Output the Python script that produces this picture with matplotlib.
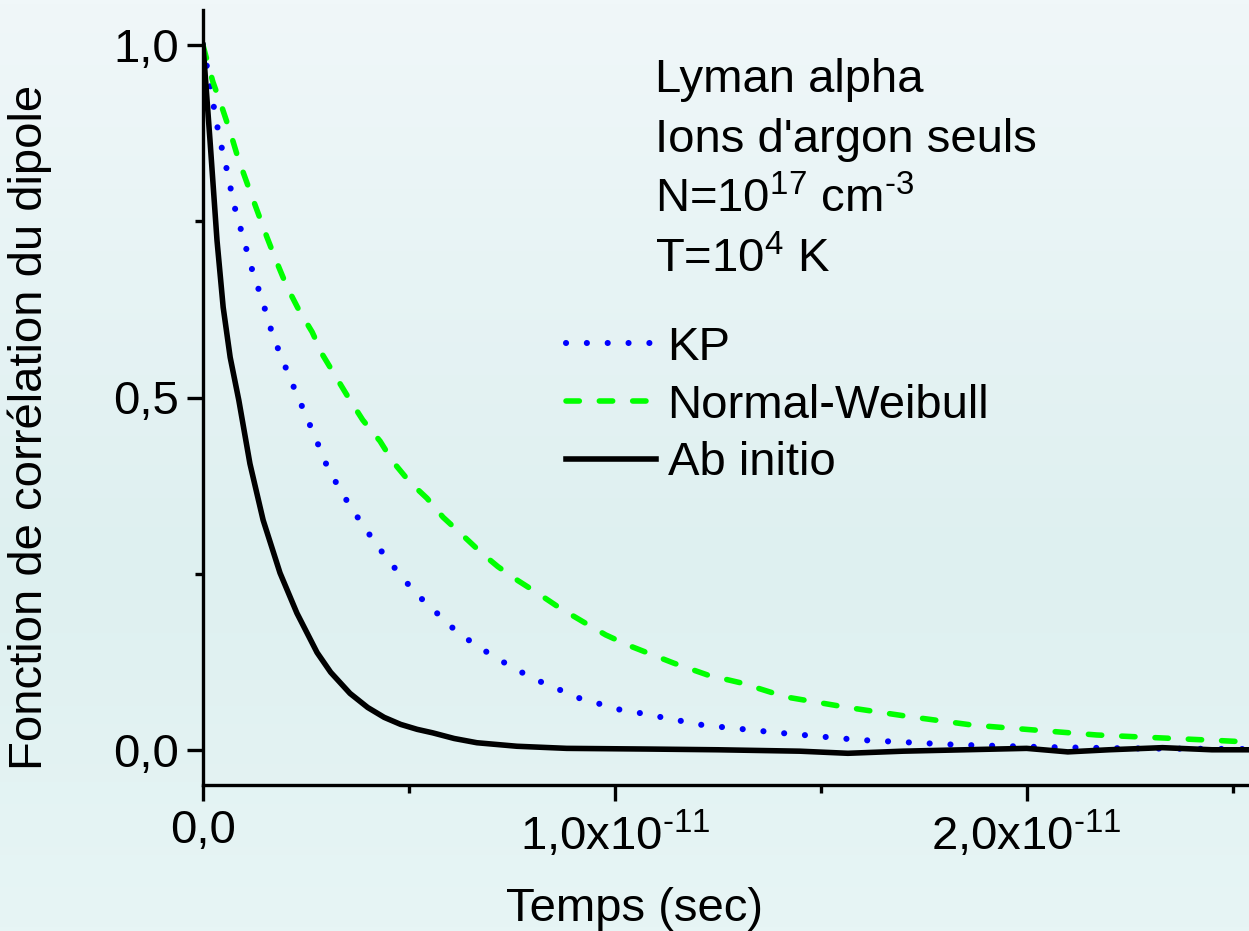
import numpy as np
import matplotlib
matplotlib.use("Agg")
import matplotlib.pyplot as plt
from matplotlib.colors import LinearSegmentedColormap

plt.rcParams["font.family"] = ["Liberation Sans", "DejaVu Sans"]
plt.rcParams["mathtext.default"] = "regular"

# time in units of 1e-11 s
t_ab = [0, 0.017, 0.034, 0.049, 0.066, 0.087, 0.114, 0.146, 0.187, 0.228, 0.277,
        0.31, 0.357, 0.40, 0.44, 0.48, 0.52, 0.558, 0.61, 0.665, 0.762, 0.883, 1.085,
        1.25, 1.449, 1.566, 1.70, 1.85, 2.0, 2.10, 2.2, 2.33, 2.45, 2.54]
c_ab = [1.0, 0.865, 0.723, 0.628, 0.557, 0.496, 0.406, 0.326, 0.251, 0.194, 0.138,
        0.110, 0.080, 0.060, 0.046, 0.036, 0.029, 0.024, 0.016, 0.010, 0.005, 0.002,
        0.001, 0.000, -0.002, -0.005, -0.002, 0.000, 0.002, -0.003, 0.000, 0.003,
        0.000, 0.000]

t_kp = [0, 0.0097, 0.024, 0.039, 0.058, 0.075, 0.097, 0.119, 0.146, 0.170, 0.199,
        0.228, 0.243, 0.277, 0.303, 0.340, 0.381, 0.425, 0.471, 0.515, 0.568, 0.619,
        0.680, 0.714, 0.745, 0.777, 0.818, 0.854, 0.886, 0.925, 0.964, 1.002, 1.044,
        1.214, 1.400, 1.592, 1.833, 2.029, 2.24, 2.54]
c_kp = [1.0, 0.969, 0.92, 0.871, 0.823, 0.774, 0.728, 0.682, 0.634, 0.587, 0.545,
        0.504, 0.484, 0.437, 0.400, 0.362, 0.325, 0.288, 0.254, 0.223, 0.194, 0.166,
        0.142, 0.130, 0.119, 0.109, 0.097, 0.089, 0.079, 0.071, 0.065, 0.058, 0.054,
        0.035, 0.024, 0.014, 0.007, 0.004, 0.002, 0.001]

t_nw = [0, 0.005, 0.024, 0.046, 0.066, 0.085, 0.109, 0.131, 0.155, 0.177, 0.204,
        0.233, 0.265, 0.291, 0.323, 0.352, 0.388, 0.430, 0.461, 0.502, 0.544, 0.583,
        0.624, 0.677, 0.716, 0.765, 0.816, 0.867, 0.922, 0.978, 1.034, 1.143, 1.226,
        1.306, 1.415, 1.566, 1.716, 1.869, 2.02, 2.17, 2.32, 2.47, 2.54]
c_nw = [1.0, 0.989, 0.948, 0.912, 0.877, 0.840, 0.801, 0.766, 0.728, 0.695, 0.657,
        0.624, 0.593, 0.560, 0.529, 0.501, 0.468, 0.438, 0.409, 0.380, 0.357, 0.330,
        0.308, 0.279, 0.260, 0.240, 0.221, 0.201, 0.182, 0.163, 0.148, 0.123, 0.106,
        0.095, 0.075, 0.060, 0.047, 0.035, 0.028, 0.021, 0.017, 0.013, 0.011]

HY = "\u2010"  # plain hyphen in the exponents, not a minus sign
info_lines = ["Lyman alpha", "Ions d'argon seuls",
              "N=10$^{17}$ cm$^{" + HY + "3}$", "T=10$^{4}$ K"]
x_ticklabels = ["0,0", "1,0x10$^{" + HY + "11}$", "2,0x10$^{" + HY + "11}$"]
y_ticklabels = ["0,0", "0,5", "1,0"]

W, H = 1249, 931
FS = 34
fig = plt.figure(figsize=(W / 100, H / 100), dpi=100)

# soft vertical gradient background
bg = fig.add_axes([0, 0, 1, 1], zorder=-10)
cmap = LinearSegmentedColormap.from_list(
    "bg", [(0.0, "#f0f7f9"), (0.6, "#def0f0"), (1.0, "#e7f5f5")])
bg.imshow(np.linspace(0, 1, 256).reshape(-1, 1), aspect="auto", cmap=cmap,
          extent=[0, 1, 0, 1], origin="upper")
bg.axis("off")

ax = fig.add_axes([203 / W, 1 - 785 / H, 1 - 203 / W, (785 - 10) / H])
ax.set_facecolor("none")

s = 1e-11
lw = 4.0
ax.plot(np.array(t_kp) * s, c_kp, color="#0000ff", lw=4.4,
        linestyle=(0, (0.01, 3.4)), dash_capstyle="round", label="KP")
ax.plot(np.array(t_nw) * s, c_nw, color="#00ff00", lw=lw,
        linestyle=(0, (2.4, 3.6)), dash_capstyle="round", label="Normal-Weibull")
ax.plot(np.array(t_ab) * s, c_ab, color="black", lw=lw, label="Ab initio",
        solid_joinstyle="round")

ax.set_xlim(0, 2.54e-11)
ax.set_ylim(-0.05, 1.05)

for side in ["top", "right"]:
    ax.spines[side].set_visible(False)
for side in ["left", "bottom"]:
    ax.spines[side].set_linewidth(2.4)

ax.set_xticks([0, 1e-11, 2e-11])
ax.set_xticklabels(x_ticklabels)
ax.set_xticks([0.5e-11, 1.5e-11, 2.5e-11], minor=True)
ax.set_yticks([0, 0.5, 1.0])
ax.set_yticklabels(y_ticklabels)
ax.set_yticks([0.25, 0.75], minor=True)
ax.tick_params(which="major", length=11.5, width=2.4, labelsize=FS, pad=6)
ax.tick_params(which="minor", length=6, width=2.4)

ax.set_xlabel("Temps (sec)", fontsize=FS)
ax.xaxis.set_label_coords((634 - 203) / (W - 203), -0.132)
ax.set_ylabel("Fonction de corrélation du dipole", fontsize=FS)
ax.yaxis.set_label_coords((52 - 203) / (W - 203), (785 - 427) / 775)

for i, line in enumerate(info_lines):
    fig.text(655 / W, 1 - (92 + 60 * i) / H, line, fontsize=FS, va="baseline")

ax.legend(loc="upper left", bbox_to_anchor=(566 / W, 1 - 326 / H),
          bbox_transform=fig.transFigure, frameon=False, fontsize=FS,
          handlelength=1.9, handletextpad=0.25, labelspacing=0.29, borderpad=0,
          borderaxespad=0)

fig.savefig("out.png", dpi=100)
